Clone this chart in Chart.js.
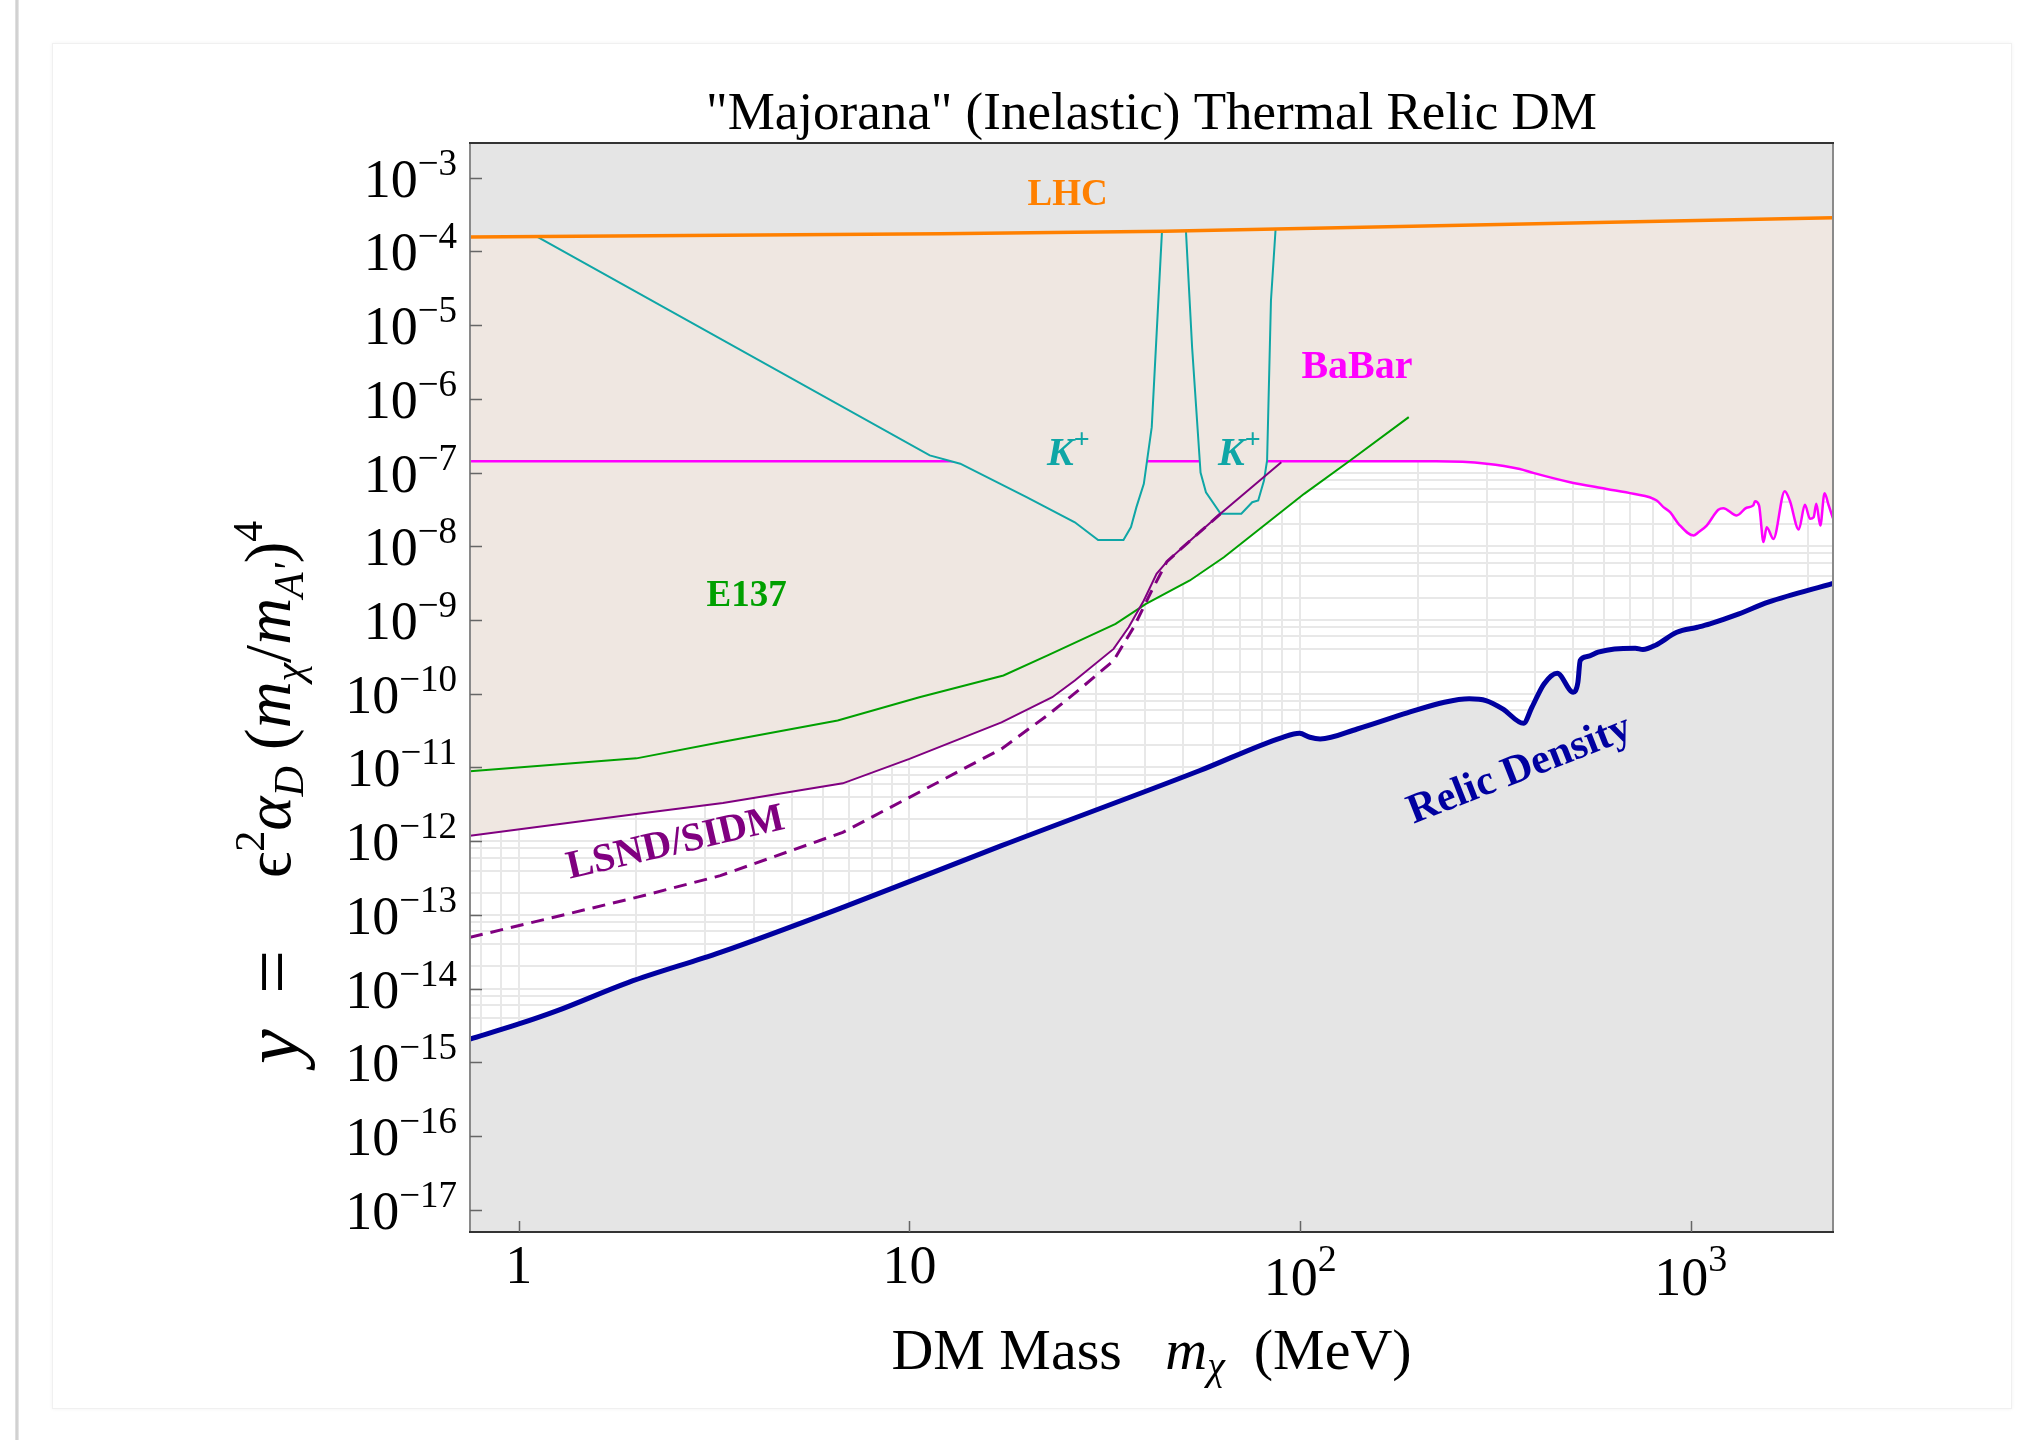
<!DOCTYPE html>
<html>
<head>
<meta charset="utf-8">
<script src="https://cdn.jsdelivr.net/npm/chart.js@4.4.1/dist/chart.umd.min.js"></script>
<style>
  html, body { margin: 0; padding: 0; background: #fff; }
  body { width: 2030px; height: 1440px; position: relative; overflow: hidden; }
  #edge { position: absolute; left: 15px; top: 0; width: 4px; height: 1440px;
          background: linear-gradient(to right, #e6e6e6, #c9c9c9, #eeeeee); }
  #card { position: absolute; left: 52px; top: 43px; width: 1958px; height: 1364px;
          border: 1px solid #f0f0f0; box-shadow: 0 0 4px rgba(0,0,0,0.05); background: #fff; }
  #plot { position: absolute; left: 0; top: 0; }
</style>
</head>
<body>
<div id="edge"></div>
<div id="card"></div>
<canvas id="plot" width="2030" height="1440"></canvas>
<script>
// mass in MeV, y = eps^2 alpha_D (m_chi/m_A')^4
var lhcBound = [[0.75, 1.57e-4], [12, 1.73e-4], [45, 1.87e-4], [2312, 2.85e-4]];

var kaonLow = [[1.11, 1.6e-4], [11.27, 1.71e-7], [13.49, 1.32e-7], [19.94, 4.63e-8], [26.5, 2.12e-8],
  [30.4, 1.22e-8], [35.3, 1.22e-8], [36.9, 1.82e-8], [38.1, 3.4e-8], [39.8, 7.05e-8],
  [41.7, 4.13e-7], [44.3, 1.9e-4]];

var kaonHigh = [[51.0, 1.95e-4], [52.9, 5.0e-6], [55.6, 1.0e-7], [57.4, 5.4e-8], [62.6, 2.76e-8],
  [70.7, 2.76e-8], [75.4, 3.96e-8], [78.1, 4.18e-8], [80.8, 7.8e-8], [82.3, 1.46e-7],
  [84.2, 2.16e-5], [86.5, 1.95e-4]];

var babar = [[0.75, 1.42e-7], [223, 1.42e-7], [300, 1.32e-7], [365, 1.12e-7], [395, 9.9e-8],
  [491, 7.4e-8], [609, 6.0e-8], [713, 5.15e-8], [818, 4.18e-8], [851, 3.4e-8], [885, 2.9e-8],
  [930, 2.02e-8], [1016, 1.4e-8], [1046, 1.55e-8], [1098, 1.91e-8], [1176, 3.13e-8],
  [1211, 3.29e-8], [1310, 2.62e-8], [1389, 3.33e-8], [1445, 3.58e-8], [1460, 4.09e-8],
  [1495, 3.6e-8], [1535, 1.14e-8], [1564, 1.82e-8], [1627, 1.26e-8], [1740, 5.6e-8],
  [1792, 4.18e-8], [1890, 1.69e-8], [1959, 3.66e-8], [2019, 2.36e-8], [2063, 2.48e-8],
  [2095, 3.78e-8], [2145, 1.91e-8], [2200, 5.26e-8], [2254, 3.58e-8], [2312, 2.4e-8]];

var e137 = [[0.75, 8.87e-12], [2.0, 1.33e-11], [3.28, 2.2e-11], [6.55, 4.33e-11], [10.6, 8.97e-11],
  [17.4, 1.77e-10], [22.8, 3.4e-10], [33.7, 8.87e-10], [40.3, 1.66e-9], [52.2, 3.44e-9],
  [63.8, 7.1e-9], [102.4, 5.15e-8], [134.3, 1.46e-7], [189.7, 5.65e-7]];

var lsnd = [[0.75, 1.19e-12], [2.0, 2.34e-12], [3.33, 3.31e-12], [6.75, 6.1e-12], [10, 1.31e-11],
  [17.2, 4.1e-11], [23.2, 8.97e-11], [26.5, 1.51e-10], [33.3, 4.06e-10], [36.4, 7.98e-10],
  [39.8, 1.84e-9], [42.9, 4.23e-9], [45.6, 6.2e-9], [50.7, 1.03e-8], [62.5, 2.76e-8], [89.5, 1.38e-7]];

var lsndLow = [[0.75, 4.97e-14], [2.0, 1.73e-13], [3.28, 3.41e-13], [6.75, 1.32e-12], [10, 3.94e-12],
  [17.2, 1.79e-11], [22.5, 5.06e-11], [27.0, 1.1e-10], [33.3, 2.82e-10], [37.5, 8.0e-10],
  [41.7, 2.51e-9], [45.6, 6.2e-9], [50.7, 1.03e-8], [62.5, 2.76e-8]];

var relic = [[0.75, 2.07e-15], [1.0, 3.32e-15], [1.25, 5.0e-15], [1.91, 1.22e-14], [3.28, 3.11e-14],
  [6.75, 1.27e-13], [17.2, 8.7e-13], [55.4, 9.1e-12], [90.3, 2.57e-11], [99.6, 2.91e-11],
  [105.9, 2.57e-11], [112.5, 2.44e-11], [140, 3.33e-11], [188, 5.5e-11], [234, 7.67e-11],
  [271, 8.53e-11], [299, 8.09e-11], [330, 6.24e-11], [373, 3.98e-11], [392, 6.56e-11],
  [421, 1.36e-10], [455, 1.9e-10], [500, 1.05e-10], [514, 1.43e-10], [521, 2.82e-10],
  [543, 3.2e-10], [579, 3.66e-10], [638, 4.06e-10], [721, 4.14e-10], [754, 3.98e-10],
  [815, 4.6e-10], [921, 6.82e-10], [1040, 7.98e-10], [1119, 8.87e-10], [1328, 1.21e-9],
  [1578, 1.75e-9], [2312, 3.15e-9]];

var massTicks = [1, 10, 100, 1000];
var massTickLabels = ['1', '10', '10^2', '10^3'];
var yTicks = [1e-3, 1e-4, 1e-5, 1e-6, 1e-7, 1e-8, 1e-9, 1e-10, 1e-11, 1e-12, 1e-13, 1e-14, 1e-15, 1e-16, 1e-17];
var yTickLabels = ['10^-3', '10^-4', '10^-5', '10^-6', '10^-7', '10^-8', '10^-9', '10^-10',
  '10^-11', '10^-12', '10^-13', '10^-14', '10^-15', '10^-16', '10^-17'];

var BEIGE = '#efe7e1', GREY = '#e5e5e5';
var SERIF = '"Liberation Serif", "Times New Roman", "DejaVu Serif", serif';
function fnt(style, size) { return style + ' ' + size + 'px ' + SERIF; }

// labels inside the plot, placed in data coordinates
var regionLabels = [
  { runs: [['LHC', 'bold', 37, 0]], at: [25.4, 4.2e-4], color: '#ff8000', angle: 0, center: true },
  { runs: [['BaBar', 'bold', 40, 0]], at: [139.8, 1.89e-6], color: '#ff00ff', angle: 0, center: true },
  { runs: [['K', 'italic bold', 40, 0], ['+', 'bold', 28, -17]], at: [25.5, 1.25e-7], color: '#0fa6a6', angle: 0, center: true },
  { runs: [['K', 'italic bold', 40, 0], ['+', 'bold', 28, -17]], at: [69.9, 1.25e-7], color: '#0fa6a6', angle: 0, center: true },
  { runs: [['E137', 'bold', 37, 0]], at: [3.83, 1.57e-9], color: '#00a000', angle: 0, center: true },
  { runs: [['LSND/SIDM', 'bold', 40, 0]], at: [1.35, 3.11e-13], color: '#800080', angle: -13, center: false },
  { runs: [['Relic Density', 'bold', 42, 0]], at: [195, 1.72e-12], color: '#0000a0', angle: -21.5, center: false }
];

function runsWidth(ctx, runs) {
  var w = 0;
  runs.forEach(function (r) { ctx.font = fnt(r[1], r[2]); w += ctx.measureText(r[0]).width; });
  return w;
}
function drawRuns(ctx, runs, x, y) {
  var cx = x;
  runs.forEach(function (r) {
    ctx.font = fnt(r[1], r[2]);
    ctx.fillText(r[0], cx, y + (r[3] || 0));
    cx += ctx.measureText(r[0]).width;
  });
}
function powRuns(label, base, sup, rise) {
  var p = label.split('^');
  var runs = [[p[0], '', base, 0]];
  if (p.length > 1) runs.push([p[1].replace('-', '\u2212'), '', sup, -rise]);
  return runs;
}

var gridX = [], gridY = [];
for (var e = -1; e <= 3; e++) for (var m = 1; m <= 9; m++) gridX.push(m * Math.pow(10, e));
for (var e2 = -18; e2 <= -3; e2++) [1, 2, 4, 6, 8].forEach(function (m2) { gridY.push(m2 * Math.pow(10, e2)); });

var decor = {
  id: 'decor',
  afterDatasetsDraw: function (chart) {
    var ctx = chart.ctx, xs = chart.scales.x, ys = chart.scales.y;
    ctx.save();
    ctx.textBaseline = 'alphabetic';
    regionLabels.forEach(function (lab) {
      ctx.save();
      ctx.translate(xs.getPixelForValue(lab.at[0]), ys.getPixelForValue(lab.at[1]));
      ctx.rotate(lab.angle * Math.PI / 180);
      ctx.fillStyle = lab.color;
      var w = runsWidth(ctx, lab.runs);
      drawRuns(ctx, lab.runs, lab.center ? -w / 2 : 0, 0);
      ctx.restore();
    });
    ctx.restore();
  },
  afterDraw: function (chart) {
    var ctx = chart.ctx, a = chart.chartArea, xs = chart.scales.x, ys = chart.scales.y;
    ctx.save();
    // frame
    ctx.lineWidth = 2;
    ctx.strokeStyle = '#8a8a8a';
    ctx.beginPath();
    ctx.moveTo(a.left, a.top); ctx.lineTo(a.left, a.bottom);
    ctx.moveTo(a.right, a.top); ctx.lineTo(a.right, a.bottom);
    ctx.stroke();
    ctx.strokeStyle = '#333';
    ctx.beginPath();
    ctx.moveTo(a.left - 1, a.top); ctx.lineTo(a.right + 1, a.top);
    ctx.moveTo(a.left - 1, a.bottom); ctx.lineTo(a.right + 1, a.bottom);
    ctx.stroke();

    // ticks
    ctx.strokeStyle = '#666';
    ctx.lineWidth = 1.5;
    ctx.beginPath();
    yTicks.forEach(function (v) {
      var py = Math.round(ys.getPixelForValue(v)) + 0.5;
      ctx.moveTo(a.left, py); ctx.lineTo(a.left + 12, py);
    });
    massTicks.forEach(function (v) {
      var px = Math.round(xs.getPixelForValue(v)) + 0.5;
      ctx.moveTo(px, a.bottom); ctx.lineTo(px, a.bottom - 11);
    });
    ctx.stroke();

    ctx.fillStyle = '#000';
    ctx.textBaseline = 'alphabetic';
    ctx.textAlign = 'left';
    // y tick labels
    yTicks.forEach(function (v, i) {
      var py = ys.getPixelForValue(v);
      var runs = powRuns(yTickLabels[i], 54, 37, 22);
      var w = runsWidth(ctx, runs);
      drawRuns(ctx, runs, a.left - 13 - w, py + 19);
    });
    // x tick labels
    massTicks.forEach(function (v, i) {
      var px = xs.getPixelForValue(v);
      var runs = powRuns(massTickLabels[i], 54, 38, 24);
      var w = runsWidth(ctx, runs);
      drawRuns(ctx, runs, px - w / 2, a.bottom + (runs.length > 1 ? 63 : 51));
    });

    // title
    var cx = (a.left + a.right) / 2;
    var title = [['"Majorana" (Inelastic) Thermal Relic DM', '', 53, 0]];
    drawRuns(ctx, title, cx - runsWidth(ctx, title) / 2, a.top - 14);

    // x axis title
    var xt = [['DM Mass', '', 58, 0], ['   ', '', 58, 0], ['m', 'italic', 58, 0],
              ['\u03c7', 'italic', 40, 10], ['  (MeV)', '', 58, 0]];
    drawRuns(ctx, xt, cx - runsWidth(ctx, xt) / 2, a.bottom + 137);

    // y axis title (rotated, reading upwards)
    ctx.save();
    ctx.translate(a.left - 172, a.bottom - 168);
    ctx.rotate(-Math.PI / 2);
    drawRuns(ctx, [['y', 'italic', 78, 0]], 0, 0);
    drawRuns(ctx, [['=', '', 78, 0]], 70, 0);
    drawRuns(ctx, [
      ['\u03f5', '', 65, 0], ['2', '', 42, -26], ['\u03b1', 'italic', 65, 0], ['D', 'italic', 42, 13],
      [' (', '', 65, 0], ['m', 'italic', 65, 0], ['\u03c7', 'italic', 42, 13], ['/', '', 65, 0],
      ['m', 'italic', 65, 0], ["A'", 'italic', 42, 13], [')', '', 65, 0], ['4', '', 42, -28]
    ], 186, -8);
    ctx.restore();
    ctx.restore();
  }
};

function pts(arr) { return arr.map(function (p) { return { x: p[0], y: p[1] }; }); }

new Chart(document.getElementById('plot'), {
  type: 'line',
  data: {
    datasets: [
      { label: 'LHC', data: pts(lhcBound), borderColor: '#ff8000', borderWidth: 3.5,
        fill: 'end', backgroundColor: GREY, order: 1 },
      { label: 'Relic Density', data: pts(relic), borderColor: '#0000a0', borderWidth: 5,
        fill: 'start', backgroundColor: GREY, cubicInterpolationMode: 'monotone', order: 2 },
      { label: 'LSND/SIDM (low)', data: pts(lsndLow), borderColor: '#800080', borderWidth: 3,
        borderDash: [13, 8], fill: false, order: 3 },
      { label: 'LSND/SIDM', data: pts(lsnd), borderColor: '#800080', borderWidth: 2, fill: false, order: 4 },
      { label: 'E137', data: pts(e137), borderColor: '#00a000', borderWidth: 2, fill: false, order: 5 },
      { label: 'K+ high', data: pts(kaonHigh), borderColor: '#0fa6a6', borderWidth: 2,
        fill: 'end', backgroundColor: BEIGE, order: 6 },
      { label: 'K+ low', data: pts(kaonLow), borderColor: '#0fa6a6', borderWidth: 2,
        fill: 'end', backgroundColor: BEIGE, order: 7 },
      { label: 'BaBar', data: pts(babar), borderColor: '#ff00ff', borderWidth: 2.5,
        fill: 'end', backgroundColor: BEIGE, cubicInterpolationMode: 'monotone', order: 8 },
      { label: 'LSND region', data: pts(lsnd), borderColor: 'rgba(0,0,0,0)', borderWidth: 0,
        fill: 'end', backgroundColor: BEIGE, order: 9 },
      { label: 'E137 region', data: pts(e137), borderColor: 'rgba(0,0,0,0)', borderWidth: 0,
        fill: 'end', backgroundColor: BEIGE, order: 10 }
    ]
  },
  options: {
    responsive: false,
    devicePixelRatio: 1,
    animation: false,
    events: [],
    clip: 0,
    layout: { padding: { left: 0, top: 143, right: 197, bottom: 0 } },
    elements: { point: { radius: 0 }, line: { tension: 0 } },
    plugins: { legend: { display: false }, tooltip: { enabled: false } },
    scales: {
      x: {
        type: 'logarithmic', min: 0.75, max: 2312,
        afterBuildTicks: function (s) { s.ticks = gridX.filter(function (v) { return v >= 0.75 && v <= 2312; }).map(function (v) { return { value: v }; }); },
        afterFit: function (s) { s.height = 208; },
        grid: { color: '#e8e8e8', lineWidth: 2, drawTicks: false },
        border: { display: false },
        ticks: { display: false }
      },
      y: {
        type: 'logarithmic', min: Math.pow(10, -17.3), max: Math.pow(10, -2.53),
        afterBuildTicks: function (s) { s.ticks = gridY.filter(function (v) { return v >= Math.pow(10, -17.3) && v <= Math.pow(10, -2.53); }).map(function (v) { return { value: v }; }); },
        afterFit: function (s) { s.width = 470; },
        grid: { color: '#e8e8e8', lineWidth: 2, drawTicks: false },
        border: { display: false },
        ticks: { display: false }
      }
    }
  },
  plugins: [decor]
});
</script>
</body>
</html>
